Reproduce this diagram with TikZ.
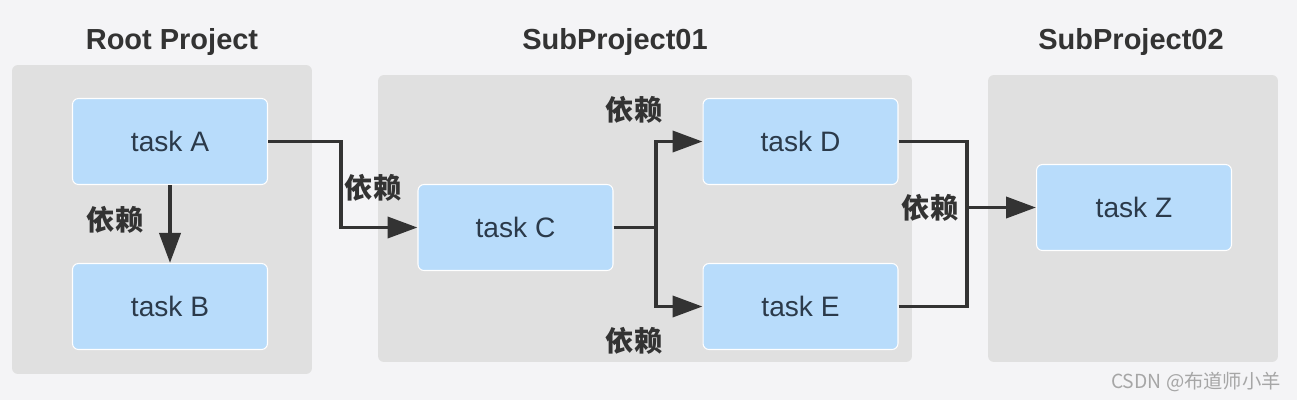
\documentclass[tikz,border=0pt]{standalone}
\usepackage{fontspec}
\setmainfont{Liberation Sans}
\newfontfamily\cjk{Noto Sans CJK SC}
\usepackage{xcolor}
\usepackage{tikz}
\usetikzlibrary{arrows.meta}

\definecolor{pagebg}{HTML}{F4F4F6}
\definecolor{panelgray}{HTML}{E0E0E0}
\definecolor{taskblue}{HTML}{B8DCFB}
\definecolor{tasktext}{HTML}{2B3A4A}
\definecolor{linedark}{HTML}{333333}

\begin{document}
\begin{tikzpicture}[
	x=0.02cm, y=-0.02cm,
	panel/.style={fill=panelgray, rounded corners=0.12cm, inner sep=0pt},
	task/.style={draw=white, line width=0.6pt, fill=taskblue, rounded corners=0.12cm, text=tasktext, minimum width=3.9cm, minimum height=1.72cm, font=\fontsize{16}{19}\selectfont},
	title/.style={font=\bfseries\fontsize{16.5}{19}\selectfont, text=linedark},
	dep/.style={font=\cjk\bfseries\fontsize{16}{19}\selectfont, text=linedark, inner sep=0pt},
	line/.style={draw=linedark, line width=2.2pt},
	edge/.style={line, -{Triangle[length=0.6cm, width=0.42cm]}}
	]
	
	% Background
	\fill [pagebg] (0,0) rectangle (1297,400);
	
	% Define panels
	\node [panel, minimum width=6cm, minimum height=6.18cm] (rootPanel) at (162,219.5) {};
	\node [panel, minimum width=10.68cm, minimum height=5.74cm] (subPanel01) at (645,218.5) {};
	\node [panel, minimum width=5.8cm, minimum height=5.74cm] (subPanel02) at (1133,218.5) {};
	\node [title] (rootTitle) at (172,42) {Root Project};
	\node [title] (subTitle01) at (615,42) {SubProject01};
	\node [title] (subTitle02) at (1131,42) {SubProject02};
	
	% Define nodes
	\node [task] (taskA) at (170,141.5) {task A};
	\node [task] (taskB) at (170,306.5) {task B};
	\node [task] (taskC) at (515.5,227.5) {task C};
	\node [task] (taskD) at (800.5,141.5) {task D};
	\node [task] (taskE) at (800.5,306.5) {task E};
	\node [task] (taskZ) at (1134,207.5) {task Z};
	
	% Bend points
	\coordinate (bendAC) at (341,141.5);
	\coordinate (forkC) at (656,227.5);
	\coordinate (joinZ) at (967,207.5);
	
	% Draw edges
	\path [edge] (taskA) -- (taskB);
	\path [edge] (taskA.east) -- (bendAC) |- (taskC.west);
	\path [edge] (taskC.east) -- (forkC) |- (taskD.west);
	\path [edge] (forkC) |- (taskE.west);
	\path [line] (taskD.east) -| (joinZ);
	\path [line] (taskE.east) -| (joinZ);
	\path [edge] (joinZ) -- (taskZ.west);
	
	% Edge labels
	\node [dep] (depAB) at (115,220) {依赖};
	\node [dep] (depAC) at (373,188) {依赖};
	\node [dep] (depCD) at (634,110) {依赖};
	\node [dep] (depCE) at (634,341) {依赖};
	\node [dep] (depZ) at (930,208) {依赖};
	
	% Watermark
	\node [font=\cjk\fontsize{11}{13}\selectfont, text=black!35] (mark) at (1196,382) {CSDN @布道师小羊};
	
\end{tikzpicture}
\end{document}
